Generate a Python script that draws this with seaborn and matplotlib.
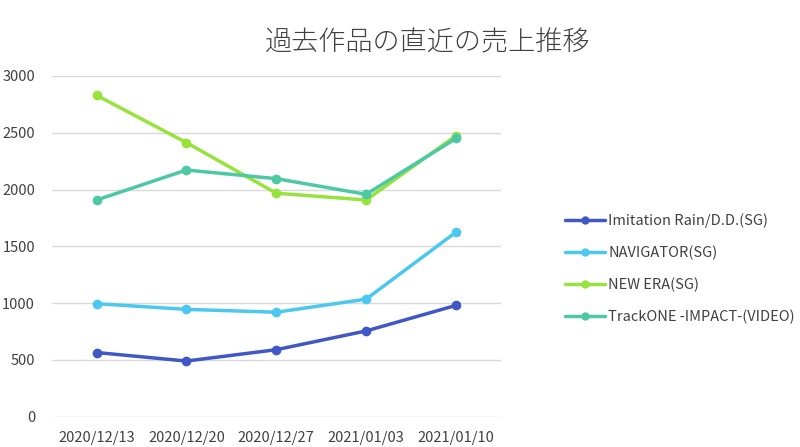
import matplotlib
matplotlib.use("Agg")
import matplotlib.pyplot as plt
import seaborn as sns
import pandas as pd

dates = ["2020/12/13", "2020/12/20", "2020/12/27", "2021/01/03", "2021/01/10"]
series_names = ["Imitation Rain/D.D.(SG)", "NAVIGATOR(SG)", "NEW ERA(SG)", "TrackONE -IMPACT-(VIDEO)"]
imitation_rain = [565, 490, 590, 755, 980]
navigator = [995, 945, 920, 1035, 1625]
new_era = [2830, 2413, 1968, 1908, 2474]
trackone = [1908, 2172, 2096, 1958, 2450]
colors = ["#4057C6", "#4CC8F0", "#97E33C", "#4CC9A4"]
yticks = [0, 500, 1000, 1500, 2000, 2500, 3000]

values = [imitation_rain, navigator, new_era, trackone]
rows = []
for name, vals in zip(series_names, values):
    for i, (d, v) in enumerate(zip(dates, vals)):
        rows.append({"idx": i, "date": d, "series": name, "value": v})
df = pd.DataFrame(rows)

sns.set_style("white")
plt.rcParams['font.family'] = ['Noto Sans CJK JP', 'DejaVu Sans']

fig = plt.figure(figsize=(8, 4.47), dpi=100)
ax = fig.add_axes([0.0646, 0.0678, 0.5615, 0.7622])

sns.lineplot(data=df, x="idx", y="value", hue="series", hue_order=series_names,
             palette=colors, marker="o", markersize=7, markeredgewidth=0,
             linewidth=2.5, ax=ax, legend=True)

ax.set_xlim(-0.5, 4.5)
ax.set_ylim(0, 3000)
ax.set_yticks(yticks)
ax.set_yticklabels([str(t) for t in yticks])
ax.set_xticks(range(len(dates)))
ax.set_xticklabels(dates)
ax.grid(axis="y", color="#D9D9D9", linewidth=1)
ax.set_axisbelow(True)
for s in ax.spines.values():
    s.set_visible(False)
ax.tick_params(axis="y", length=0, pad=12, labelsize=10.5, labelcolor="#404040")
ax.tick_params(axis="x", length=0, pad=10, labelsize=10.5, labelcolor="#404040")
ax.set_xlabel("")
ax.set_ylabel("")

handles, labels = ax.get_legend_handles_labels()
for h in handles:
    h.set_markersize(6)
ax.legend(handles, labels, loc="center left", bbox_to_anchor=(1.143, 0.435),
          frameon=False, fontsize=10.5, handlelength=2.75, handletextpad=0.2,
          labelspacing=1.2, labelcolor="#404040", borderaxespad=0, borderpad=0)

fig.text(0.534, 0.905, "過去作品の直近の売上推移", ha="center", va="center",
         fontsize=19.5, color="#404040", fontweight="light")

fig.savefig("out.png", dpi=100, facecolor="white")
